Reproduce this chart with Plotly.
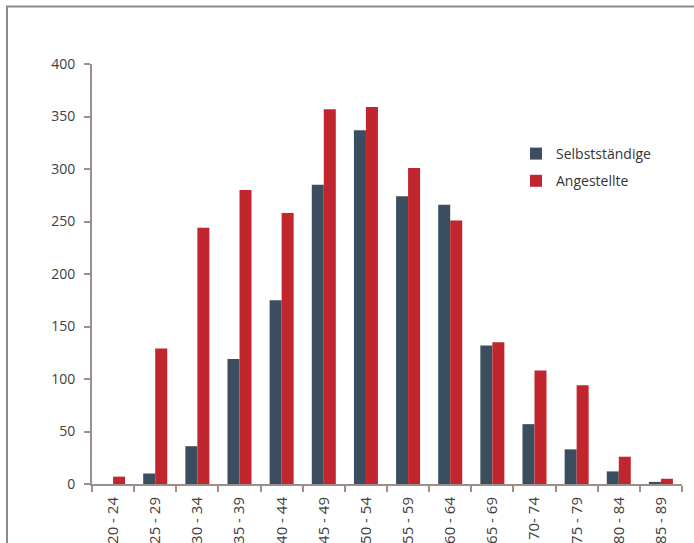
import plotly.graph_objects as go

categories = ["20 - 24", "25 - 29", "30 - 34", "35 - 39", "40 - 44", "45 - 49", "50 - 54",
              "55 - 59", "60 - 64", "65 - 69", "70- 74", "75 - 79", "80 - 84", "85 - 89"]
selbst = [0, 10, 36, 119, 175, 285, 337, 274, 266, 132, 57, 33, 12, 2]
angest = [7, 129, 244, 280, 258, 357, 359, 301, 251, 135, 108, 94, 26, 5]

W, H = 694, 543
L, R, T, B = 92, 682, 64, 484
font = "Open Sans, DejaVu Sans, sans-serif"
axis_col = "#9b908b"

fig = go.Figure()
fig.add_trace(go.Bar(name="Selbstständige", x=categories, y=selbst, legendgroup="s",
                     marker=dict(color="#3b4e60", line=dict(width=0))))
fig.add_trace(go.Bar(name="Angestellte", x=categories, y=angest, legendgroup="a",
                     marker=dict(color="#c1262e", line=dict(width=0))))

fig.update_layout(
    width=W, height=H,
    margin=dict(l=L, r=W - R, t=T, b=H - B, autoexpand=False),
    paper_bgcolor="white", plot_bgcolor="white",
    barmode="group", bargap=0.43, bargroupgap=0,
    font=dict(family=font, size=14, color="#404040"),
    showlegend=True,
    legend=dict(x=(516 - L) / (R - L), y=(B - 138) / (B - T), xanchor="left", yanchor="top",
                bgcolor="rgba(0,0,0,0)", font=dict(size=14, color="#333333"),
                itemwidth=30, tracegroupgap=6),
    xaxis=dict(type="category", showline=True, linecolor=axis_col, linewidth=2,
               ticks="outside", tickson="boundaries", ticklen=6, tickcolor=axis_col, tickwidth=2,
               tickangle=-90, showgrid=False, automargin=False, ticklabelstandoff=5,
               tickfont=dict(size=15, color="#404040")),
    yaxis=dict(range=[0, 400], dtick=50, showline=True, linecolor=axis_col, linewidth=2,
               ticks="outside", ticklen=6, tickcolor=axis_col, tickwidth=2,
               showgrid=False, zeroline=False, automargin=False, ticklabelstandoff=6,
               tickfont=dict(size=14, color="#404040")),
)

fx0 = (7 - L) / (R - L)
fx1 = (W + 20 - L) / (R - L)
fy1 = (B - 6.5) / (B - T)
fy0 = (B - H - 20) / (B - T)
fig.add_shape(type="rect", xref="paper", yref="paper", x0=fx0, x1=fx1, y0=fy0, y1=fy1,
              line=dict(color="#948a85", width=2), fillcolor="rgba(0,0,0,0)", layer="below")

fig.write_html("out.html")
